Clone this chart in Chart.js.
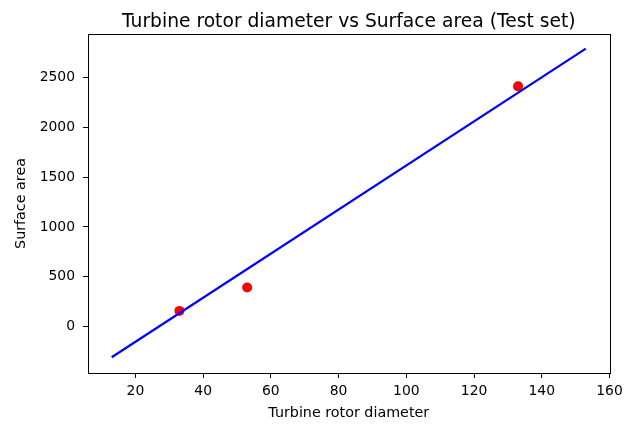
<!DOCTYPE html>
<html>
<head>
<meta charset="utf-8">
<script src="https://cdn.jsdelivr.net/npm/chart.js@4/dist/chart.umd.min.js"></script>
<style>
    body { margin: 0; background: #fff; }
    canvas { display: block; }
</style>
</head>
<body>
<canvas id="grafico" width="624" height="424"></canvas>
<script>
// Dados do conjunto de teste (pontos vermelhos)
const testX = [33, 53, 133];
const testY = [158, 392, 2410];

// Reta de regressão (extremos)
const lineX = [13, 153];
const lineY = [-307, 2788];

const xTicks = [20, 40, 60, 80, 100, 120, 140, 160];
const yTicks = [0, 500, 1000, 1500, 2000, 2500];

const titulo = "Turbine rotor diameter vs Surface area (Test set)";
const fonte = "'DejaVu Sans', sans-serif";

// Moldura completa + título centrado na área do gráfico
const moldura = {
    id: "moldura",
    afterDraw(chart) {
        const { ctx, chartArea } = chart;
        ctx.save();
        ctx.strokeStyle = "#000";
        ctx.lineWidth = 1;
        ctx.strokeRect(Math.round(chartArea.left) + 0.5, Math.round(chartArea.top) + 0.5,
            Math.round(chartArea.right - chartArea.left), Math.round(chartArea.bottom - chartArea.top));

        ctx.fillStyle = "#000";
        ctx.font = "18.7px " + fonte;
        ctx.textAlign = "center";
        ctx.textBaseline = "alphabetic";
        ctx.fillText(titulo, (chartArea.left + chartArea.right) / 2, 27);
        ctx.restore();
    }
};

const ctx = document.getElementById("grafico").getContext("2d");

new Chart(ctx, {
    type: "scatter",
    data: {
        datasets: [
            {
                label: "Regressão",
                data: lineX.map((x, i) => ({ x: x, y: lineY[i] })),
                showLine: true,
                borderColor: "#0000ff",
                borderWidth: 2.2,
                pointRadius: 0,
                fill: false
            },
            {
                label: "Teste",
                data: testX.map((x, i) => ({ x: x, y: testY[i] })),
                backgroundColor: "#ff0000",
                borderColor: "#ff0000",
                pointRadius: 5,
                borderWidth: 0
            }
        ]
    },
    options: {
        responsive: false,
        animation: false,
        layout: { padding: { left: 0, right: 14.5, top: 34, bottom: 0 } },
        plugins: {
            legend: { display: false },
            tooltip: { enabled: false },
            title: { display: false }
        },
        scales: {
            x: {
                type: "linear",
                min: 6,
                max: 160,
                afterBuildTicks: (scale) => { scale.ticks = xTicks.map(v => ({ value: v })); },
                afterFit: (scale) => {
                    scale.height = 51;
                    scale.paddingLeft = 0;
                    scale.paddingRight = 0;
                },
                grid: { display: true, drawOnChartArea: false, drawTicks: true, tickLength: 5, color: "#000" },
                border: { display: false },
                ticks: {
                    color: "#000", font: { family: fonte, size: 13.9 }, padding: 5, maxRotation: 0,
                    callback: (v) => String(v)
                },
                title: {
                    display: true,
                    text: "Turbine rotor diameter",
                    color: "#000",
                    font: { family: fonte, size: 14.3 },
                    padding: { top: 0, bottom: 2.2 }
                }
            },
            y: {
                type: "linear",
                min: -465,
                max: 2935,
                afterBuildTicks: (scale) => { scale.ticks = yTicks.map(v => ({ value: v })); },
                afterFit: (scale) => {
                    scale.width = 88;
                    scale.paddingTop = 0;
                    scale.paddingBottom = 0;
                },
                grid: { display: true, drawOnChartArea: false, drawTicks: true, tickLength: 5, color: "#000" },
                border: { display: false },
                ticks: {
                    color: "#000", font: { family: fonte, size: 13.9 }, padding: 8,
                    callback: (v) => String(v)
                },
                title: {
                    display: true,
                    text: "Surface area",
                    color: "#000",
                    font: { family: fonte, size: 14.3 },
                    padding: { top: 12.4, bottom: 0 }
                }
            }
        }
    },
    plugins: [moldura]
});
</script>
</body>
</html>
